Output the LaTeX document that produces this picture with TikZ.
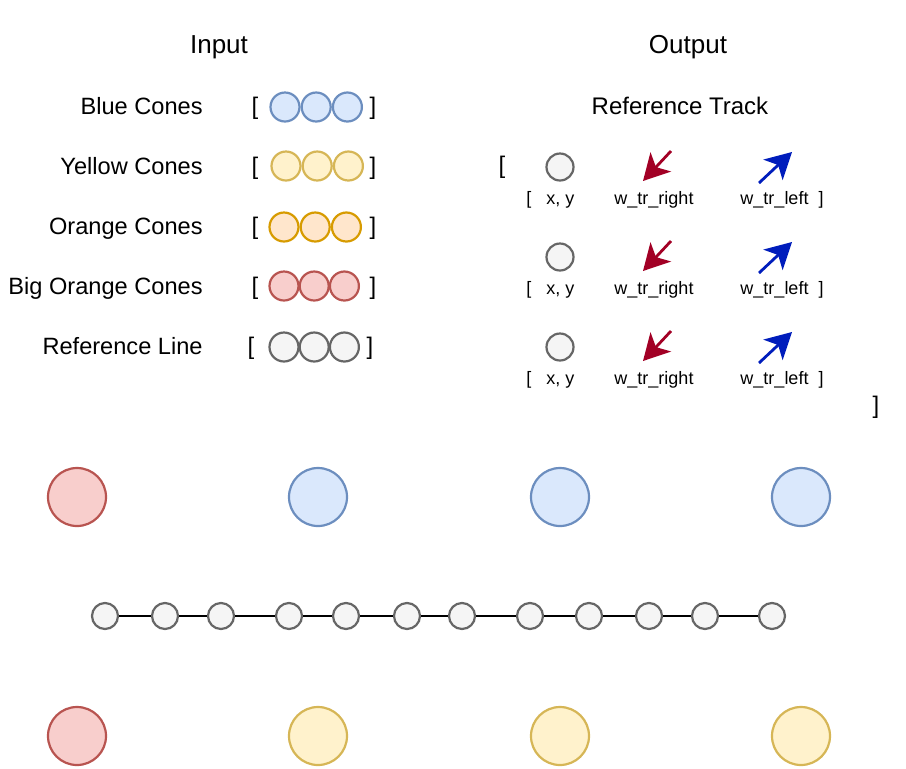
\documentclass[tikz,border=0pt]{standalone}
\usepackage{fontspec}
\setmainfont{Liberation Sans}
\usepackage{tikz}
\usetikzlibrary{positioning}
\usetikzlibrary{arrows.meta}

\definecolor{BlueFill}{HTML}{DAE8FC}
\definecolor{BlueLine}{HTML}{6C8EBF}
\definecolor{YellowFill}{HTML}{FFF2CC}
\definecolor{YellowLine}{HTML}{D6B656}
\definecolor{OrangeFill}{HTML}{FFE6CC}
\definecolor{OrangeLine}{HTML}{D79B00}
\definecolor{RedFill}{HTML}{F8CECC}
\definecolor{RedLine}{HTML}{B85450}
\definecolor{GreyFill}{HTML}{F5F5F5}
\definecolor{GreyLine}{HTML}{666666}
\definecolor{ArrowRed}{HTML}{A20025}
\definecolor{ArrowBlue}{HTML}{001DBC}

\begin{document}
\begin{tikzpicture}[x=0.5pt, y=-0.5pt,
    cone/.style = {circle, draw, line width=1.1pt, inner sep=0pt, minimum size=14.5pt},
    bluecone/.style = {cone, fill=BlueFill, draw=BlueLine},
    yellowcone/.style = {cone, fill=YellowFill, draw=YellowLine},
    orangecone/.style = {cone, fill=OrangeFill, draw=OrangeLine},
    bigorangecone/.style = {cone, fill=RedFill, draw=RedLine},
    refcone/.style = {cone, fill=GreyFill, draw=GreyLine},
    bigcone/.style = {minimum size=29pt},
    trackpoint/.style = {refcone, minimum size=13pt},
    outpoint/.style = {refcone, minimum size=13.5pt},
    titletext/.style = {font=\fontsize{13}{15}\selectfont, inner sep=0pt, anchor=base},
    conelabel/.style = {font=\fontsize{11.8}{14}\selectfont, inner sep=0pt, anchor=base east},
    bracket/.style = {font=\fontsize{12}{14}\selectfont, inner sep=0pt, anchor=base},
    smalltext/.style = {font=\fontsize{9}{11}\selectfont, inner sep=0pt, anchor=base},
    rightarrow/.style = {-{Stealth[length=13pt, width=14pt, inset=3.5pt]}, line width=1.4pt, color=ArrowRed},
    leftarrow/.style = {-{Stealth[length=13pt, width=14pt, inset=3.5pt]}, line width=1.4pt, color=ArrowBlue},
    trackline/.style = {line width=1.4pt, black}
    ]

    \useasboundingbox (0,0) rectangle (906,768);

    %Titles
    \node[titletext] (InputTitle) at (219,53) {Input};
    \node[titletext] (OutputTitle) at (688,53) {Output};
    \node[bracket] (TrackTitle) at (680,114) {Reference Track};

    %-------------------------------------------
    %Input

    \node[conelabel] (BlueLabel) at (203,114) {Blue Cones};
    \node[bracket] (BlueOpen) at (255,114) {[};
    \node[bluecone] (Blue1) at (285,107) {};
    \node[bluecone, right = 0pt of Blue1] (Blue2) {};
    \node[bluecone, right = 0pt of Blue2] (Blue3) {};
    \node[bracket] (BlueClose) at (373,114) {]};

    \node[conelabel] (YellowLabel) at (203,174) {Yellow Cones};
    \node[bracket] (YellowOpen) at (255,174) {[};
    \node[yellowcone] (Yellow1) at (286,166) {};
    \node[yellowcone, right = 0pt of Yellow1] (Yellow2) {};
    \node[yellowcone, right = 0pt of Yellow2] (Yellow3) {};
    \node[bracket] (YellowClose) at (373,174) {]};

    \node[conelabel] (OrangeLabel) at (203,234) {Orange Cones};
    \node[bracket] (OrangeOpen) at (255,234) {[};
    \node[orangecone] (Orange1) at (284,227) {};
    \node[orangecone, right = 0pt of Orange1] (Orange2) {};
    \node[orangecone, right = 0pt of Orange2] (Orange3) {};
    \node[bracket] (OrangeClose) at (373,234) {]};

    \node[conelabel] (BigLabel) at (203,294) {Big Orange Cones};
    \node[bracket] (BigOpen) at (255,294) {[};
    \node[bigorangecone] (Big1) at (284,286) {};
    \node[bigorangecone, right = -0.5pt of Big1] (Big2) {};
    \node[bigorangecone, right = -0.5pt of Big2] (Big3) {};
    \node[bracket] (BigClose) at (373,294) {]};

    \node[conelabel] (RefLabel) at (203,354) {Reference Line};
    \node[bracket] (RefOpen) at (251,354) {[};
    \node[refcone] (Ref1) at (284,347) {};
    \node[refcone, right = -0.5pt of Ref1] (Ref2) {};
    \node[refcone, right = -0.5pt of Ref2] (Ref3) {};
    \node[bracket] (RefClose) at (370,354) {]};

    %-------------------------------------------
    %Output

    \node[bracket] (OutOpen) at (502,173) {[};
    \node[bracket] (OutClose) at (876,413) {]};

    \node[outpoint] (Point1) at (560,167) {};
    \node[smalltext, anchor=base west] (XY1) at (526,204) {[\ \ \ x, y};
    \node[smalltext] (WRight1) at (654,204) {w\_tr\_right};
    \node[smalltext] (WLeft1) at (782,204) {w\_tr\_left\ \ ]};
    \coordinate (RightTail1) at (671,151);
    \coordinate (RightTip1) at (643,181);
    \coordinate (LeftTail1) at (759,183);
    \coordinate (LeftTip1) at (792,152);
    \draw[rightarrow] (RightTail1) -- (RightTip1);
    \draw[leftarrow] (LeftTail1) -- (LeftTip1);

    \node[outpoint] (Point2) at (560,257) {};
    \node[smalltext, anchor=base west] (XY2) at (526,294) {[\ \ \ x, y};
    \node[smalltext] (WRight2) at (654,294) {w\_tr\_right};
    \node[smalltext] (WLeft2) at (782,294) {w\_tr\_left\ \ ]};
    \coordinate (RightTail2) at (671,241);
    \coordinate (RightTip2) at (643,271);
    \coordinate (LeftTail2) at (759,273);
    \coordinate (LeftTip2) at (792,242);
    \draw[rightarrow] (RightTail2) -- (RightTip2);
    \draw[leftarrow] (LeftTail2) -- (LeftTip2);

    \node[outpoint] (Point3) at (560,347) {};
    \node[smalltext, anchor=base west] (XY3) at (526,384) {[\ \ \ x, y};
    \node[smalltext] (WRight3) at (654,384) {w\_tr\_right};
    \node[smalltext] (WLeft3) at (782,384) {w\_tr\_left\ \ ]};
    \coordinate (RightTail3) at (671,331);
    \coordinate (RightTip3) at (643,361);
    \coordinate (LeftTail3) at (759,363);
    \coordinate (LeftTip3) at (792,332);
    \draw[rightarrow] (RightTail3) -- (RightTip3);
    \draw[leftarrow] (LeftTail3) -- (LeftTip3);

    %-------------------------------------------
    %Track example

    \node[bigorangecone, bigcone] (BigTop) at (77,497) {};
    \node[bluecone, bigcone] (BlueTop1) at (318,497) {};
    \node[bluecone, bigcone] (BlueTop2) at (560,497) {};
    \node[bluecone, bigcone] (BlueTop3) at (801,497) {};

    \node[bigorangecone, bigcone] (BigBottom) at (77,736) {};
    \node[yellowcone, bigcone] (YellowBottom1) at (318,736) {};
    \node[yellowcone, bigcone] (YellowBottom2) at (560,736) {};
    \node[yellowcone, bigcone] (YellowBottom3) at (801,736) {};

    \node[trackpoint] (T1) at (105,616) {};
    \node[trackpoint] (T2) at (165,616) {};
    \node[trackpoint] (T3) at (221,616) {};
    \node[trackpoint] (T4) at (289,616) {};
    \node[trackpoint] (T5) at (346,616) {};
    \node[trackpoint] (T6) at (407,616) {};
    \node[trackpoint] (T7) at (462,616) {};
    \node[trackpoint] (T8) at (530,616) {};
    \node[trackpoint] (T9) at (589,616) {};
    \node[trackpoint] (T10) at (649,616) {};
    \node[trackpoint] (T11) at (705,616) {};
    \node[trackpoint] (T12) at (772,616) {};

    \draw[trackline] (T1) -- (T2) -- (T3) -- (T4) -- (T5) -- (T6)
        -- (T7) -- (T8) -- (T9) -- (T10) -- (T11) -- (T12);

\end{tikzpicture}
\end{document}
